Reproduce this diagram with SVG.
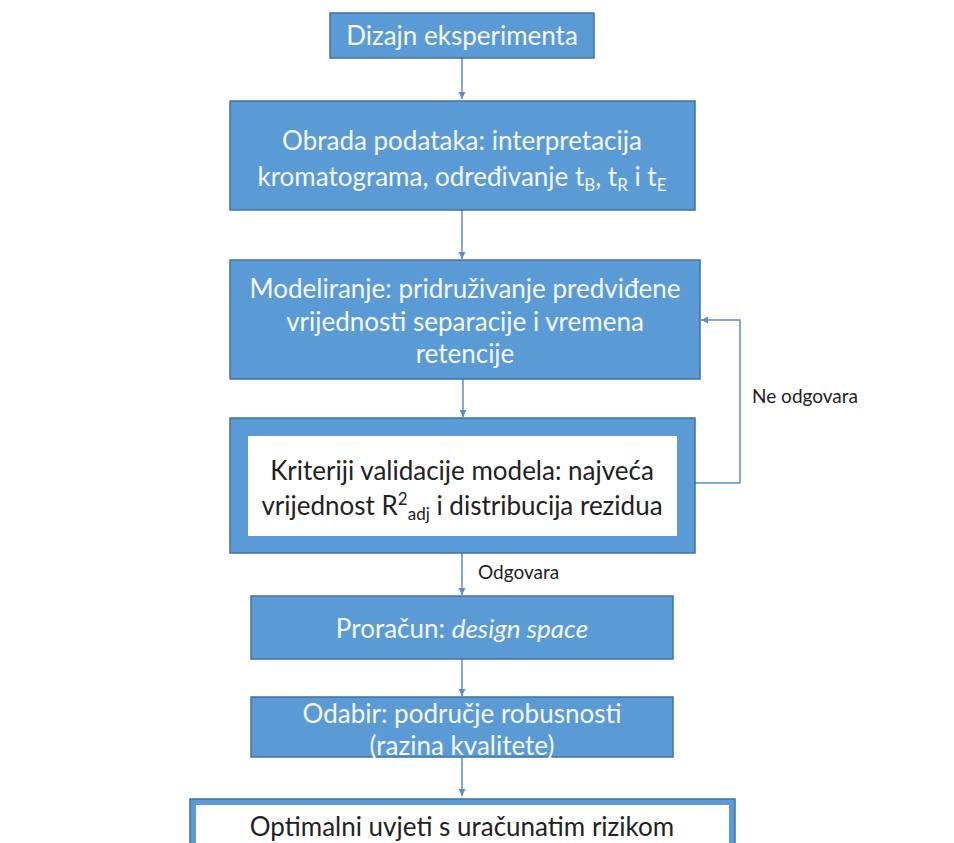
<svg xmlns="http://www.w3.org/2000/svg" width="954" height="843" viewBox="0 0 954 843">
<style>
.box{fill:#5B9BD5;stroke:#41719C;stroke-width:1.5}
.inner{fill:#FFFFFF}
.wt{font-family:Lato,"Open Sans",sans-serif;font-size:26px;fill:#F4F8FC;text-anchor:middle}
.dt{font-family:Lato,"Open Sans",sans-serif;font-size:26px;fill:#222222;text-anchor:middle}
.lbl{font-family:Lato,"Open Sans",sans-serif;font-size:19px;fill:#222222}
.con{fill:none;stroke:#5B8DC4;stroke-width:1.5}
.sub{font-size:17px}
</style>
<defs>
<marker id="ah" viewBox="0 0 10 10" refX="10" refY="5" markerWidth="7" markerHeight="7" markerUnits="userSpaceOnUse" orient="auto">
<path d="M0,0 L10,5 L0,10 z" fill="#5B8DC4"/>
</marker>
</defs>
<rect width="954" height="843" fill="#FFFFFF"/>
<g id="connectors">
<line class="con" x1="462" y1="58" x2="462" y2="99" marker-end="url(#ah)"/>
<line class="con" x1="462" y1="210" x2="462" y2="259" marker-end="url(#ah)"/>
<line class="con" x1="463" y1="379" x2="463" y2="417" marker-end="url(#ah)"/>
<line class="con" x1="462" y1="553" x2="462" y2="595" marker-end="url(#ah)"/>
<line class="con" x1="462" y1="659" x2="462" y2="696" marker-end="url(#ah)"/>
<line class="con" x1="462" y1="757" x2="462" y2="796" marker-end="url(#ah)"/>
<polyline class="con" points="695,483 740,483 740,320 701,320" marker-end="url(#ah)"/>
<text class="lbl" x="752" y="403">Ne odgovara</text>
<text class="lbl" x="478" y="579">Odgovara</text>
</g>
<g id="n1">
<rect class="box" x="330" y="13" width="264" height="45"/>
<text class="wt" x="462" y="45">Dizajn eksperimenta</text>
</g>
<g id="n2">
<rect class="box" x="230" y="101" width="465" height="109"/>
<text class="wt" x="462" y="150">Obrada podataka: interpretacija</text>
<text class="wt" x="462" y="186">kromatograma, određivanje t<tspan class="sub" dy="5">B</tspan><tspan dy="-5">, t</tspan><tspan class="sub" dy="5">R</tspan><tspan dy="-5"> i t</tspan><tspan class="sub" dy="5">E</tspan></text>
</g>
<g id="n3">
<rect class="box" x="230" y="260" width="470" height="119"/>
<text class="wt" x="465" y="298">Modeliranje: pridruživanje predviđene</text>
<text class="wt" x="465" y="331">vrijednosti separacije i vremena</text>
<text class="wt" x="465" y="363">retencije</text>
</g>
<g id="n4">
<rect class="box" x="230" y="418" width="465" height="135"/>
<rect class="inner" x="248" y="436" width="429" height="100"/>
<text class="dt" x="462" y="480">Kriteriji validacije modela: najveća</text>
<text class="dt" x="462" y="515">vrijednost R<tspan class="sub" dy="-10">2</tspan><tspan class="sub" dy="15">adj</tspan><tspan dy="-5"> i distribucija rezidua</tspan></text>
</g>
<g id="n5">
<rect class="box" x="251" y="596" width="422" height="63"/>
<text class="wt" x="462" y="638">Proračun: <tspan font-style="italic">design space</tspan></text>
</g>
<g id="n6">
<rect class="box" x="251" y="697" width="422" height="60"/>
<text class="wt" x="462" y="723">Odabir: područje robusnosti</text>
<text class="wt" x="462" y="755">(razina kvalitete)</text>
</g>
<g id="n7">
<rect class="box" x="190" y="799" width="545" height="60"/>
<rect class="inner" x="196" y="805" width="533" height="60"/>
<text class="dt" x="462" y="836">Optimalni uvjeti s uračunatim rizikom</text>
</g>
</svg>
